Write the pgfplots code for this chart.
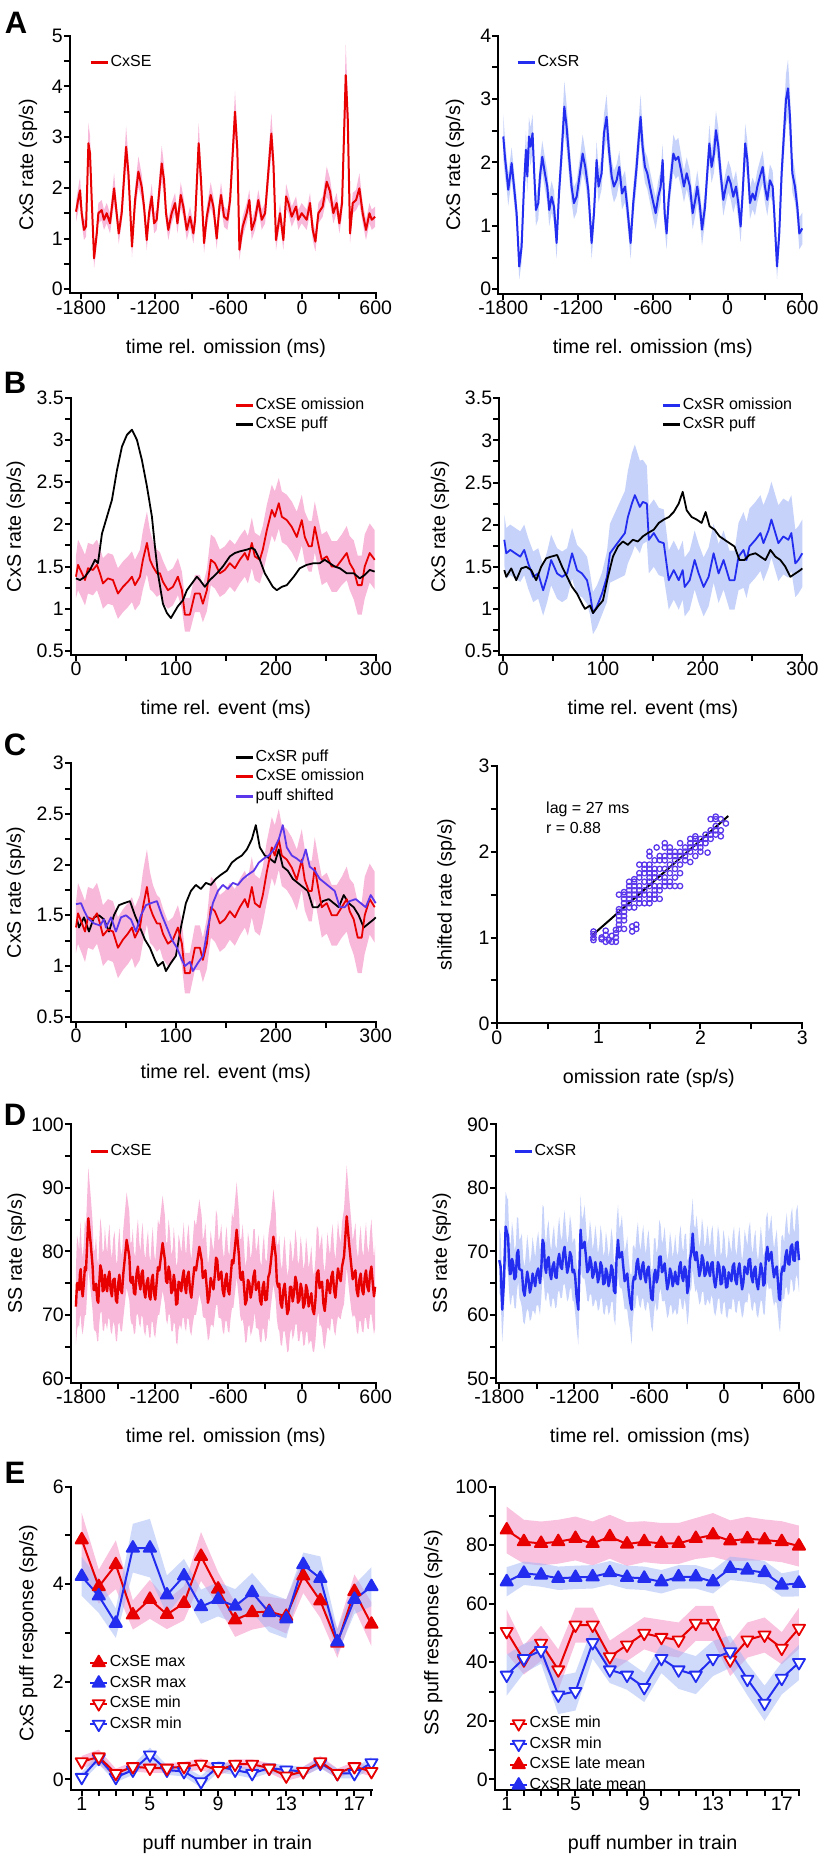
\documentclass[border=0pt]{standalone}
\usepackage{fontspec}
\setmainfont{Liberation Sans}
\usepackage{pgfplots}
\usepackage{pgfplotstable}
\pgfplotsset{compat=1.18}
\usepgfplotslibrary{fillbetween}
\definecolor{myred}{RGB}{232,0,0}
\definecolor{myblue}{RGB}{35,45,240}
\definecolor{bandpink}{RGB}{248,184,218}
\definecolor{bandblue}{RGB}{198,210,250}
\definecolor{ebandblue}{RGB}{160,182,245}
\definecolor{mypurple}{RGB}{90,55,235}

\pgfplotstableread{
t m e
-1841 1.53 0.2
-1814 1.89 0.25
-1808 1.95 0.25
-1795 1.5 0.2
-1776 1.17 0.2
-1759 1.24 0.2
-1740 2.88 0.4
-1727 2.68 0.35
-1713 1.76 0.25
-1694 0.61 0.2
-1672 1.1 0.2
-1659 1.5 0.2
-1632 1.56 0.2
-1613 1.37 0.2
-1591 1.5 0.2
-1564 1.3 0.2
-1531 1.99 0.3
-1510 1.5 0.2
-1493 1.1 0.2
-1469 1.5 0.2
-1433 2.81 0.4
-1414 2.29 0.3
-1401 1.63 0.2
-1385 0.84 0.2
-1360 1.76 0.25
-1333 2.32 0.3
-1306 2.02 0.25
-1287 1.63 0.2
-1265 0.97 0.2
-1246 1.5 0.2
-1224 1.83 0.25
-1205 1.3 0.2
-1184 1.37 0.2
-1143 2.48 0.35
-1124 2.15 0.3
-1108 1.5 0.2
-1089 1.17 0.2
-1062 1.5 0.2
-1034 1.7 0.2
-1015 1.3 0.2
-988 1.86 0.25
-967 1.63 0.2
-939 1.17 0.2
-912 1.43 0.2
-885 1.1 0.2
-871 1.37 0.2
-842 2.88 0.4
-823 2.15 0.3
-798 0.91 0.2
-776 1.43 0.2
-744 1.86 0.25
-722 1.63 0.2
-695 1.0 0.2
-673 1.63 0.2
-660 1.86 0.25
-635 1.43 0.2
-608 1.37 0.2
-586 1.76 0.25
-546 3.5 0.4
-527 2.75 0.35
-510 0.78 0.2
-483 1.24 0.2
-451 1.5 0.2
-429 1.76 0.2
-410 1.17 0.2
-383 1.37 0.2
-356 1.76 0.2
-328 1.37 0.2
-301 1.5 0.2
-250 3.07 0.4
-233 2.48 0.35
-212 0.97 0.2
-179 1.5 0.2
-152 0.97 0.2
-130 1.83 0.25
-111 1.7 0.2
-84 1.43 0.2
-49 1.63 0.2
-30 1.37 0.2
-3 1.5 0.2
38 1.37 0.2
65 1.7 0.2
87 1.17 0.2
109 0.94 0.2
133 1.5 0.2
168 1.63 0.2
201 2.12 0.3
228 1.93 0.25
255 1.5 0.2
282 1.7 0.2
304 1.3 0.2
326 1.7 0.25
356 4.22 0.6
372 3.4 0.45
391 1.1 0.2
413 1.7 0.2
440 1.76 0.2
467 1.99 0.3
494 1.5 0.2
521 1.17 0.2
549 1.5 0.2
568 1.37 0.2
595 1.43 0.2
}\tAL

\pgfplotstableread{
t m e
-1800 2.41 0.35
-1787 2.09 0.3
-1773 1.83 0.25
-1760 1.57 0.25
-1746 1.78 0.25
-1733 1.99 0.25
-1714 1.62 0.25
-1693 1.2 0.25
-1672 0.36 0.2
-1653 0.67 0.25
-1634 1.62 0.25
-1618 2.2 0.3
-1607 1.78 0.25
-1594 2.41 0.3
-1581 2.25 0.3
-1565 2.46 0.3
-1554 1.93 0.25
-1538 1.25 0.25
-1519 1.36 0.25
-1506 1.78 0.25
-1487 2.09 0.25
-1466 1.83 0.25
-1447 1.62 0.25
-1431 1.25 0.25
-1412 1.46 0.25
-1393 1.3 0.25
-1372 0.73 0.25
-1353 1.51 0.25
-1332 2.14 0.3
-1310 2.88 0.4
-1292 2.57 0.35
-1270 2.04 0.3
-1252 1.62 0.25
-1233 1.36 0.25
-1211 1.46 0.25
-1185 1.83 0.25
-1163 2.14 0.3
-1142 1.93 0.25
-1118 1.57 0.25
-1091 0.73 0.25
-1072 1.2 0.25
-1051 2.04 0.3
-1035 1.62 0.25
-1011 1.83 0.25
-992 2.46 0.3
-971 2.72 0.35
-952 2.2 0.3
-930 1.78 0.25
-912 1.62 0.25
-890 1.72 0.25
-869 1.93 0.25
-847 1.51 0.25
-823 1.62 0.25
-805 1.3 0.25
-778 0.73 0.25
-757 1.36 0.25
-730 1.93 0.3
-714 2.35 0.3
-698 2.72 0.35
-682 2.25 0.3
-663 1.93 0.25
-644 1.83 0.25
-623 1.62 0.25
-601 1.41 0.25
-577 1.2 0.25
-556 1.46 0.25
-537 1.62 0.25
-521 2.04 0.25
-505 1.2 0.25
-489 0.88 0.25
-473 1.41 0.25
-454 1.78 0.25
-435 2.14 0.3
-417 2.04 0.3
-395 2.09 0.3
-369 1.83 0.25
-350 1.62 0.25
-328 1.83 0.25
-302 1.62 0.25
-280 1.2 0.25
-259 1.41 0.25
-243 1.62 0.25
-221 1.3 0.25
-205 0.94 0.25
-181 1.3 0.25
-163 1.83 0.25
-146 2.3 0.3
-128 1.93 0.25
-109 2.14 0.3
-93 2.51 0.3
-74 2.25 0.3
-56 1.83 0.25
-34 1.41 0.25
-13 1.62 0.25
6 1.78 0.25
25 1.67 0.25
46 1.46 0.25
68 1.62 0.25
86 1.36 0.25
105 0.99 0.25
121 1.51 0.25
142 2.3 0.3
159 2.04 0.3
180 1.36 0.25
201 1.51 0.25
220 1.41 0.25
239 1.62 0.25
260 1.78 0.25
282 1.93 0.25
300 1.62 0.25
319 1.41 0.25
340 1.72 0.25
362 1.62 0.25
375 1.2 0.25
397 0.36 0.2
415 0.88 0.25
434 1.83 0.3
453 2.46 0.35
469 2.99 0.4
485 3.17 0.45
501 2.72 0.4
520 1.83 0.3
541 1.62 0.25
560 1.3 0.25
576 0.88 0.25
600 0.96 0.25
}\tAR

\pgfplotstableread{
t m e
0 1.38 0.25
2 1.52 0.3
6 1.42 0.3
9 1.34 0.3
12 1.48 0.3
17 1.46 0.3
21 1.52 0.3
24 1.42 0.3
27 1.3 0.3
32 1.36 0.3
37 1.34 0.3
42 1.18 0.3
47 1.26 0.3
52 1.32 0.3
56 1.38 0.3
59 1.28 0.3
64 1.38 0.32
67 1.58 0.35
71 1.78 0.37
74 1.58 0.35
77 1.5 0.3
81 1.42 0.28
84 1.42 0.25
87 1.32 0.25
92 1.22 0.22
97 1.26 0.22
102 1.38 0.22
106 1.22 0.22
109 0.93 0.2
114 0.93 0.2
119 1.18 0.22
124 1.18 0.22
127 1.06 0.22
131 1.22 0.25
135 1.58 0.3
139 1.54 0.3
144 1.42 0.28
149 1.46 0.28
154 1.54 0.28
159 1.48 0.28
164 1.58 0.28
169 1.66 0.28
172 1.58 0.28
176 1.78 0.3
179 1.62 0.28
184 1.58 0.28
187 1.7 0.28
191 1.93 0.3
196 2.17 0.3
199 2.09 0.3
203 2.25 0.3
206 2.09 0.3
211 2.05 0.3
216 1.97 0.3
221 1.85 0.3
226 2.05 0.3
229 1.85 0.3
233 1.74 0.3
236 1.74 0.3
239 1.97 0.3
243 1.74 0.3
246 1.58 0.3
251 1.62 0.3
256 1.5 0.3
261 1.5 0.3
266 1.58 0.3
271 1.66 0.32
274 1.54 0.32
278 1.46 0.35
282 1.28 0.35
286 1.28 0.35
289 1.5 0.38
294 1.66 0.35
299 1.58 0.35
}\tBLr

\pgfplotstableread{
t m
0 1.36
4 1.34
9 1.38
14 1.46
19 1.58
22 1.54
26 1.89
31 2.09
36 2.29
41 2.64
46 2.92
51 3.06
56 3.12
61 3.0
66 2.76
71 2.45
76 2.09
79 1.74
82 1.42
87 1.06
91 0.95
95 0.89
98 0.95
102 1.03
107 1.1
111 1.22
116 1.3
121 1.38
124 1.34
129 1.26
134 1.34
141 1.42
147 1.5
154 1.62
159 1.66
164 1.68
171 1.7
176 1.72
179 1.7
184 1.58
189 1.42
193 1.34
197 1.26
201 1.22
206 1.26
211 1.28
218 1.38
224 1.48
231 1.52
238 1.54
244 1.54
249 1.58
254 1.54
259 1.5
264 1.48
271 1.42
278 1.42
284 1.36
289 1.4
294 1.46
299 1.44
}\tBLk

\pgfplotstableread{
t m e
1 1.82 0.3
3 1.66 0.3
7 1.7 0.3
12 1.66 0.3
17 1.62 0.3
21 1.7 0.3
25 1.54 0.3
30 1.38 0.3
35 1.42 0.3
40 1.22 0.3
44 1.38 0.3
48 1.58 0.3
54 1.42 0.3
59 1.38 0.3
64 1.42 0.3
69 1.66 0.3
74 1.46 0.3
79 1.42 0.28
84 1.34 0.28
87 1.18 0.25
90 0.95 0.25
94 1.03 0.25
99 1.18 0.25
104 1.38 0.3
107 1.66 0.35
112 1.74 0.4
117 1.82 0.45
122 1.9 0.5
125 2.09 0.55
129 2.25 0.6
132 2.35 0.6
137 2.21 0.55
140 2.27 0.5
144 2.25 0.45
146 1.82 0.4
151 1.9 0.4
156 1.8 0.4
161 1.78 0.4
166 1.34 0.35
171 1.46 0.35
176 1.34 0.35
180 1.46 0.35
182 1.26 0.35
187 1.34 0.35
192 1.58 0.35
196 1.42 0.35
201 1.26 0.35
206 1.38 0.35
211 1.66 0.35
216 1.42 0.35
221 1.58 0.35
224 1.46 0.35
227 1.34 0.35
232 1.34 0.35
236 1.62 0.4
241 1.7 0.45
244 1.58 0.45
247 1.74 0.45
253 1.82 0.45
258 1.9 0.45
261 1.78 0.45
266 1.93 0.45
269 2.06 0.45
273 1.9 0.45
276 1.78 0.45
281 1.86 0.45
286 1.82 0.45
289 1.9 0.45
293 1.54 0.4
296 1.58 0.4
300 1.66 0.4
}\tBRb

\pgfplotstableread{
t m
1 1.46
3 1.38
8 1.48
13 1.34
18 1.48
23 1.5
28 1.46
33 1.34
38 1.5
43 1.6
48 1.62
54 1.64
59 1.5
64 1.38
69 1.26
74 1.18
79 1.06
82 1.0
87 1.04
90 0.95
95 1.03
100 1.1
105 1.38
110 1.62
115 1.74
120 1.8
125 1.76
130 1.82
135 1.8
140 1.86
145 1.9
151 1.94
156 2.02
161 2.06
166 2.09
171 2.15
176 2.25
180 2.39
184 2.17
189 2.09
194 2.06
199 2.02
203 2.15
207 1.98
212 1.94
217 1.86
222 1.82
227 1.78
232 1.74
237 1.58
242 1.58
247 1.64
253 1.66
258 1.62
263 1.58
268 1.7
273 1.62
278 1.58
283 1.5
288 1.38
293 1.42
298 1.46
300 1.48
}\tBRk

\pgfplotstableread{
t m
0 1.61
5 1.62
8 1.55
12 1.47
18 1.42
24 1.4
28 1.46
30 1.38
35 1.48
40 1.34
45 1.48
50 1.5
55 1.46
60 1.34
65 1.5
70 1.6
75 1.62
81 1.64
86 1.5
91 1.38
96 1.26
101 1.18
106 1.06
109 1.0
114 1.04
117 0.95
122 1.03
127 1.1
132 1.38
137 1.62
142 1.74
147 1.8
152 1.76
157 1.82
162 1.8
167 1.86
172 1.9
178 1.94
183 2.02
188 2.06
193 2.09
198 2.15
203 2.25
207 2.39
211 2.17
216 2.09
221 2.06
226 2.02
230 2.15
234 1.98
239 1.94
244 1.86
249 1.82
254 1.78
259 1.74
264 1.58
269 1.58
274 1.64
280 1.66
285 1.62
290 1.58
295 1.7
300 1.62
}\tCp

\pgfplotstableread{
t m e
-1841 71.3 6
-1832 75.0 7.5
-1822 75 6.5
-1815 73.9 6
-1808 76.5 6.5
-1802 77.2 7.5
-1795 74.4 6.5
-1786 72.9 6
-1776 75 6.5
-1768 77.5 7.5
-1759 77 7
-1740 85.2 8
-1721 81.3 7.5
-1705 77.6 7
-1696 73.9 6
-1686 73.9 6.5
-1677 74.9 7.5
-1667 72.3 6.5
-1659 71.9 6
-1651 75 6.5
-1642 77.8 7.5
-1632 77 6.5
-1623 73.7 6
-1613 73.9 6.5
-1605 76.3 7.5
-1596 75 6.5
-1587 73.7 6
-1577 76 6.5
-1568 76.8 7.5
-1558 73.9 6.5
-1548 72.9 6
-1537 75.5 6.5
-1526 75.7 7.5
-1515 72.3 6.5
-1506 71.9 6
-1496 75 6.5
-1487 76.3 7.5
-1477 73.9 6.5
-1466 73.4 6
-1455 76.5 7
-1428 81.8 7.5
-1406 79.2 7
-1397 75.3 6
-1387 75 6.5
-1378 76.0 7.5
-1368 73.4 6.5
-1358 73.2 6
-1347 76.5 6.5
-1336 77.6 7.5
-1325 75 6.5
-1316 74.0 6
-1306 76.5 6.5
-1297 77.0 7.5
-1287 73.9 6.5
-1276 72.7 6
-1265 75 6.5
-1254 75.8 7.5
-1243 72.9 6.5
-1234 72.4 6
-1224 75.5 6.5
-1215 76.3 7.5
-1205 73.4 6.5
-1195 72.4 6
-1184 75 6.5
-1173 77.5 7.5
-1162 77 7
-1135 81.3 7.5
-1116 78.6 7
-1107 75.3 6
-1097 75 6.5
-1086 77.6 7.5
-1075 76.5 6.5
-1064 73.4 6
-1053 73.9 6.5
-1044 76.3 7.5
-1034 75 6.5
-1025 71.6 6
-1015 71.8 6.5
-1005 75.2 7.5
-994 75 6.5
-983 73.7 6
-972 76 6.5
-963 77.0 7.5
-953 74.4 6.5
-944 73.4 6
-934 76 6.5
-923 76.8 7.5
-912 73.9 6.5
-901 72.7 6
-890 75 6.5
-877 77.5 7.5
-863 77 7
-836 80.7 7.5
-817 78.6 7
-808 75.8 6
-798 76 6.5
-787 77.0 7.5
-776 74.4 6.5
-766 71.9 6
-755 72.9 6.5
-744 75.8 7.5
-733 75 6.5
-721 74.0 6
-709 76.5 6.5
-700 79.0 7.5
-690 78.6 7
-679 75.5 6
-668 76 6.5
-657 76.8 7.5
-646 73.9 6.5
-635 72.9 6
-624 75.5 6.5
-614 76.5 7.5
-603 73.9 6.5
-592 73.2 6
-581 76 6.5
-570 78.6 7.5
-559 78.1 7
-532 83.4 7.5
-513 79.2 7
-504 75.9 6
-494 75.5 6.5
-483 76.8 7.5
-472 74.4 6.5
-462 71.6 6
-451 72.3 6.5
-440 75.5 7.5
-429 75 6.5
-418 72.7 6
-407 73.9 6.5
-396 76.0 7.5
-385 77 6.5
-375 73.9 6
-364 74.4 6.5
-353 75.2 7.5
-342 72.3 6.5
-331 71.6 6
-320 74.4 6.5
-310 75.2 7.5
-299 72.3 6.5
-287 72.4 6
-274 76 6.5
-265 76.5 7.5
-255 78.1 7
-233 82.3 7.5
-214 79.2 7
-205 75.3 6
-195 74.4 6.5
-185 74.9 7.5
-174 71.8 6.5
-163 71.1 6
-152 73.9 6.5
-141 74.9 7.5
-130 72.3 6.5
-120 70.1 6
-109 70.8 6.5
-98 74.4 7.5
-87 74.4 6.5
-76 72.1 6
-65 73.4 6.5
-54 76.0 7.5
-43 75 6.5
-33 71.9 6
-22 72.3 6.5
-11 74.9 7.5
0 73.9 6.5
11 71.1 6
22 71.8 6.5
33 74.7 7.5
43 73.9 6.5
54 71.3 6
65 72.3 6.5
76 73.4 7.5
87 70.8 6.5
98 70.1 6
109 72.3 6.5
121 76.5 7.5
133 77 6.5
143 74.2 6
152 75 6.5
163 75.2 7.5
174 71.8 6.5
185 70.6 6
196 72.9 6.5
207 75.5 7.5
217 74.4 6.5
228 73.4 6
239 76 6.5
250 76.8 7.5
261 73.9 6.5
272 72.7 6
282 75 6.5
293 77.3 7.5
304 76 6.5
315 75.3 6
326 77.6 7
342 79.2 7.5
364 85.5 8
383 81.3 7.5
402 77.6 7
413 75.6 6
424 76.5 6.5
435 77.0 7.5
445 73.9 6.5
456 72.9 6
467 75.5 6.5
478 76.5 7.5
489 73.9 6.5
500 73.2 6
511 76 6.5
521 77.0 7.5
532 74.4 6.5
543 73.7 6
554 76.5 6.5
565 77.6 7.5
576 75 6.5
586 72.9 6
595 74.4 6.5
}\tDL

\pgfplotstableread{
t m e
-1800 68.6 5
-1789 67.6 5
-1776 60.8 5
-1763 65 5
-1749 73.9 5.5
-1736 72.8 5.5
-1730 72.5 5.8
-1723 69.2 5
-1715 66.4 4.5
-1707 66.5 5
-1698 68.8 5.8
-1688 68.1 5
-1678 65.6 4.5
-1667 66 5
-1658 69.6 5.8
-1648 70.2 5
-1639 67.2 4.5
-1629 67.1 5
-1619 67.0 5.8
-1608 63.9 5
-1597 63.0 4.5
-1586 65 5
-1576 66.8 5.8
-1565 65.5 5
-1555 63.5 4.5
-1544 64.4 5
-1533 66.5 5.8
-1522 65.5 5
-1512 64.5 4.5
-1501 66.5 5
-1488 67.3 5.8
-1474 65 5
-1464 67.0 4.5
-1453 71.8 5.5
-1444 71.2 5.8
-1434 67.6 5
-1425 66.6 4.5
-1416 68.6 5
-1405 69.1 5.8
-1394 66.5 5
-1384 65.6 4.5
-1373 67.6 5
-1362 68.3 5.8
-1351 66 5
-1341 65.8 4.5
-1330 68.6 5
-1320 69.6 5.8
-1309 67.6 5
-1298 67.2 4.5
-1287 69.7 5
-1277 70.7 5.8
-1266 68.6 5
-1256 66.6 4.5
-1245 67.6 5
-1234 69.9 5.8
-1223 69.2 5
-1213 66.7 4.5
-1202 67.1 5
-1192 66.0 5.8
-1181 62.9 5
-1167 60.8 5.5
-1149 73.4 5.5
-1138 70.5 4.5
-1127 70.7 5
-1117 71.5 5.8
-1106 69.2 5
-1095 66.7 4.5
-1084 67.1 5
-1074 69.1 5.8
-1063 68.1 5
-1053 65.8 4.5
-1042 66.5 5
-1031 68.3 5.8
-1020 67.1 5
-1010 65.1 4.5
-999 66 5
-989 68.3 5.8
-978 67.6 5
-967 64.8 4.5
-956 65 5
-946 67.3 5.8
-935 66.5 5
-925 64.5 4.5
-914 65.5 5
-903 67.8 5.8
-892 67.1 5
-882 63.8 4.5
-871 63.4 5
-860 69.1 5.8
-849 71.8 5.5
-838 69.0 4.5
-828 69.2 5
-818 69.9 5.8
-807 67.6 5
-796 65.3 4.5
-785 66 5
-775 66.5 5.8
-764 63.9 5
-752 62.0 4.5
-740 60.8 5.5
-731 64.9 5.8
-721 66 5
-711 65.6 4.5
-700 68.1 5
-690 68.8 5.8
-679 66.5 5
-668 65.6 4.5
-657 67.6 5
-647 68.3 5.8
-636 66 5
-626 65.1 4.5
-615 67.1 5
-604 67.6 5.8
-593 65 5
-583 62.6 4.5
-572 62.3 5
-561 66.2 5.8
-550 67.1 5
-540 65.1 4.5
-529 66 5
-519 69.1 5.8
-508 69.2 5
-497 66.7 4.5
-486 67.1 5
-476 68.1 5.8
-465 66 5
-455 64.0 4.5
-444 65 5
-433 67.3 5.8
-422 66.5 5
-412 64.5 4.5
-401 65.5 5
-391 66.8 5.8
-380 65 5
-369 64.8 4.5
-358 67.6 5
-348 68.3 5.8
-337 66 5
-327 65.3 4.5
-316 67.6 5
-305 67.0 5.8
-294 63.4 5
-284 64.5 4.5
-273 68.6 5
-262 70.0 5.8
-251 72.8 5.5
-241 69.7 4.5
-230 68.6 5
-220 69.9 5.8
-209 68.1 5
-198 66.1 4.5
-187 67.1 5
-177 69.4 5.8
-166 68.6 5
-156 66.1 4.5
-145 66.5 5
-134 68.3 5.8
-123 67.1 5
-113 66.1 4.5
-102 68.1 5
-92 68.3 5.8
-81 65.5 5
-70 64.3 4.5
-59 66 5
-49 68.3 5.8
-38 67.6 5
-27 64.8 4.5
-16 65 5
-6 67.6 5.8
5 67.1 5
16 64.3 4.5
26 64.4 5
37 66.7 5.8
48 66 5
59 65.3 4.5
69 67.6 5
80 68.1 5.8
90 65.5 5
101 64.8 4.5
112 67.1 5
123 68.1 5.8
133 66 5
144 64.0 4.5
154 65 5
165 67.6 5.8
176 67.1 5
187 66.4 4.5
197 68.6 5
208 68.8 5.8
219 66 5
230 65.1 4.5
240 67.1 5
251 67.6 5.8
261 65 5
272 64.0 4.5
283 66 5
294 68.1 5.8
304 67.1 5
315 64.6 4.5
325 65 5
336 69.4 5.8
347 70.7 5.5
358 68.5 4.5
368 69.2 5
379 69.9 5.8
389 67.6 5
400 65.9 4.5
411 67.1 5
422 67.6 5.8
432 65 5
440 62.6 4.5
448 62.3 5
459 66.5 5.8
470 67.6 5
481 66.9 4.5
491 69.2 5
502 70.2 5.8
512 68.1 5
523 67.9 4.5
534 70.7 5
545 71.1 5.8
555 68.6 5
566 68.5 4.5
576 71.3 5
588 71.5 5.8
600 68.6 5
}\tDR

\pgfplotstableread{
n m e
1 4.91 0.55
2 3.95 0.35
3 4.4 0.5
4 3.37 0.3
5 3.69 0.4
6 3.38 0.3
7 3.61 0.35
8 4.57 0.5
9 3.9 0.35
10 3.27 0.35
11 3.42 0.35
12 3.44 0.3
13 3.34 0.35
14 4.17 0.35
15 3.66 0.35
16 2.79 0.3
17 3.85 0.35
18 3.18 0.45
}\tEa
\pgfplotstableread{
n m e
1 4.16 0.4
2 3.76 0.35
3 3.2 0.3
4 4.74 0.5
5 4.74 0.6
6 3.78 0.4
7 4.17 0.35
8 3.54 0.35
9 3.69 0.35
10 3.55 0.35
11 3.83 0.4
12 3.42 0.4
13 3.29 0.4
14 4.4 0.25
15 4.12 0.45
16 2.82 0.25
17 3.69 0.3
18 3.95 0.4
}\tEb
\pgfplotstableread{
n m e
1 0.36 0.12
2 0.46 0.15
3 0.12 0.1
4 0.26 0.1
5 0.23 0.1
6 0.23 0.1
7 0.26 0.1
8 0.31 0.12
9 0.18 0.1
10 0.31 0.1
11 0.31 0.1
12 0.23 0.1
13 0.07 0.1
14 0.16 0.1
15 0.36 0.12
16 0.12 0.1
17 0.26 0.1
18 0.16 0.1
}\tEc
\pgfplotstableread{
n m e
1 0.04 0.1
2 0.43 0.12
3 0.04 0.1
4 0.19 0.1
5 0.5 0.15
6 0.19 0.1
7 0.16 0.1
8 -0.05 0.12
9 0.26 0.12
10 0.19 0.1
11 0.12 0.1
12 0.23 0.1
13 0.19 0.1
14 0.16 0.1
15 0.33 0.1
16 0.12 0.1
17 0.12 0.1
18 0.34 0.12
}\tEd

\pgfplotstableread{
n m e
1 50.5 7.5
2 40.8 5
3 46.5 6
4 37.4 7
5 52.7 6
6 52.7 6
7 41.9 5.5
8 45.9 5.5
9 49.9 5.5
10 48.5 6
11 47.6 6
12 53.3 6
13 53.3 6
14 40.8 5.5
15 47.6 6
16 49.3 6
17 44.8 5.5
18 51.6 7
}\tFa
\pgfplotstableread{
n m e
1 35.6 7
2 41.3 5
3 44 4.5
4 28.8 6.5
5 30 6.5
6 46.7 5.5
7 37.4 4.5
8 35.6 5
9 31.4 5
10 41.3 5
11 37.4 6.5
12 35.6 6.5
13 41.3 6
14 43.6 5.5
15 34.2 5.5
16 26 6
17 34.5 5.5
18 39.9 6
}\tFb
\pgfplotstableread{
n m e
1 85.2 8
2 81.2 7.5
3 80.6 7.5
4 81.2 7.5
5 82.3 7.5
6 80.6 7.5
7 82.9 7.5
8 80.4 7.5
9 81.2 7
10 80.6 7
11 80.6 7
12 82.3 7
13 83.5 7.5
14 81.5 7
15 82.2 7.5
16 81.8 7
17 81.2 7
18 79.7 7
}\tFc
\pgfplotstableread{
n m e
1 67.5 5
2 70.4 4
3 69.8 4
4 68.7 4
5 69 4
6 69.2 4
7 70.6 4
8 69 4
9 68.7 4
10 67.5 4
11 69.2 4
12 69.2 4
13 67.5 4
14 72.1 4
15 71.5 4
16 70.6 4
17 66.4 4
18 67 4.5
}\tFd

\newcommand{\band}[3]{%
 \addplot[draw=none, name path=#3u, forget plot] table[x index=0, y expr=\thisrowno{1}+\thisrowno{2}] {#1};
 \addplot[draw=none, name path=#3l, forget plot] table[x index=0, y expr=\thisrowno{1}-\thisrowno{2}] {#1};
 \addplot[#2, draw=none, forget plot] fill between[of=#3u and #3l];
}

\pgfplotsset{
  base/.style={
    scale only axis,
    axis x line=bottom, axis y line=left,
    axis line style={-, line width=2pt, black, line cap=rect},
    tick align=outside,
    major tick length=6pt, minor tick length=6pt,
    major tick style={line width=2pt, black},
    minor tick style={line width=2pt, black},
    xticklabel style={font=\fontsize{19.5}{22}\selectfont, inner sep=1pt},
    yticklabel style={font=\fontsize{19.5}{22}\selectfont, inner sep=1pt},
    label style={font=\fontsize{19.7}{22}\selectfont},
    xlabel style={anchor=center}, ylabel style={anchor=center},
    legend style={draw=none, fill=none, inner sep=0pt, anchor=north west,
      font=\fontsize{16}{18}\selectfont,
      nodes={inner sep=1.5pt, text height=11.5pt, text depth=3.5pt}, row sep=1.5pt},
    legend cell align=left,
    legend image code/.code={\draw[mark repeat=2,mark phase=2,#1] plot coordinates {(0pt,0pt) (8.5pt,0pt) (17pt,0pt)};},
    anchor=south west,
    clip=false,
    every axis plot/.append style={line join=round},
  },
  upm/.style={mark=triangle*, mark size=7pt, mark options={solid, fill=#1, draw=#1}},
  dnm/.style={mark=triangle*, mark size=7pt, mark options={solid, rotate=180, fill=white, draw=#1, line width=1.8pt}},
}

\begin{document}
\begin{tikzpicture}[x=1pt,y=1pt]
\path (0pt,0pt) rectangle (819pt,1857pt);
\node[font=\bfseries\fontsize{31}{33}\selectfont] at (16pt,1834pt) {A};
\node[font=\bfseries\fontsize{31}{33}\selectfont] at (15pt,1474pt) {B};
\node[font=\bfseries\fontsize{31}{33}\selectfont] at (15pt,1112pt) {C};
\node[font=\bfseries\fontsize{31}{33}\selectfont] at (15pt,742pt) {D};
\node[font=\bfseries\fontsize{31}{33}\selectfont] at (15pt,384pt) {E};

% ---------- A left
\begin{axis}[base, at={(70pt,1563.7pt)}, width=305.7pt, height=257.6pt,
  xmin=-1890, xmax=600, ymin=-0.079, ymax=5,
  xtick={-1800,-1200,-600,0,600}, xticklabels={-1800,-1200,-600,0,600}, minor x tick num=1,
  ytick={0,1,2,3,4,5}, yticklabels={0,1,2,3,4,5}, minor y tick num=1,
  xlabel={time rel. omission (ms)}, ylabel={CxS rate (sp/s)},
  xlabel style={at={(axis description cs:0.51,-0.214)}},
  ylabel style={at={(axis description cs:-0.137,0.5)}},
  legend style={at={(0.062,0.932)}}]
\addlegendimage{myred, line width=3pt}\addlegendentry{CxSE}
\band{\tAL}{fill=bandpink}{al}
\addplot[myred, line width=2pt, forget plot] table[x index=0, y index=1] {\tAL};
\end{axis}

% ---------- A right
\begin{axis}[base, at={(498.3pt,1563pt)}, width=304pt, height=258.3pt,
  xmin=-1840, xmax=600, ymin=-0.074, ymax=4,
  xtick={-1800,-1200,-600,0,600}, xticklabels={-1800,-1200,-600,0,600}, minor x tick num=1,
  ytick={0,1,2,3,4}, yticklabels={0,1,2,3,4}, minor y tick num=1,
  xlabel={time rel. omission (ms)}, ylabel={CxS rate (sp/s)},
  xlabel style={at={(axis description cs:0.508,-0.209)}},
  ylabel style={at={(axis description cs:-0.142,0.5)}},
  legend style={at={(0.058,0.932)}}]
\addlegendimage{myblue, line width=3pt}\addlegendentry{CxSR}
\band{\tAR}{fill=bandblue}{ar}
\addplot[myblue, line width=2pt, forget plot] table[x index=0, y index=1] {\tAR};
\end{axis}

% ---------- B left
\begin{axis}[base, at={(71pt,1202pt)}, width=304.7pt, height=257.3pt,
  xmin=-5, xmax=300, ymin=0.4526, ymax=3.5,
  xtick={0,100,200,300}, xticklabels={0,100,200,300}, minor x tick num=1,
  ytick={0.5,1,1.5,2,2.5,3,3.5}, yticklabels={0.5,1,1.5,2,2.5,3,3.5}, minor y tick num=1,
  xlabel={time rel. event (ms)}, ylabel={CxS rate (sp/s)},
  xlabel style={at={(axis description cs:0.508,-0.211)}},
  ylabel style={at={(axis description cs:-0.181,0.5)}},
  legend style={at={(0.535,1.006)}}]
\addlegendimage{myred, line width=3pt}\addlegendentry{CxSE omission}
\addlegendimage{black, line width=3pt}\addlegendentry{CxSE puff}
\band{\tBLr}{fill=bandpink}{bl}
\addplot[myred, line width=1.8pt, forget plot] table[x index=0, y index=1] {\tBLr};
\addplot[black, line width=1.8pt, forget plot] table[x index=0, y index=1] {\tBLk};
\end{axis}

% ---------- B right
\begin{axis}[base, at={(499.3pt,1202pt)}, width=303pt, height=256.7pt,
  xmin=-4, xmax=300, ymin=0.4525, ymax=3.5,
  xtick={0,100,200,300}, xticklabels={0,100,200,300}, minor x tick num=1,
  ytick={0.5,1,1.5,2,2.5,3,3.5}, yticklabels={0.5,1,1.5,2,2.5,3,3.5}, minor y tick num=1,
  xlabel={time rel. event (ms)}, ylabel={CxS rate (sp/s)},
  xlabel style={at={(axis description cs:0.507,-0.212)}},
  ylabel style={at={(axis description cs:-0.196,0.5)}},
  legend style={at={(0.534,1.008)}}]
\addlegendimage{myblue, line width=3pt}\addlegendentry{CxSR omission}
\addlegendimage{black, line width=3pt}\addlegendentry{CxSR puff}
\band{\tBRb}{fill=bandblue}{br}
\addplot[myblue, line width=1.8pt, forget plot] table[x index=0, y index=1] {\tBRb};
\addplot[black, line width=1.8pt, forget plot] table[x index=0, y index=1] {\tBRk};
\end{axis}

% ---------- C left
\begin{axis}[base, at={(71pt,835.3pt)}, width=304.7pt, height=258.4pt,
  xmin=-5, xmax=300, ymin=0.4507, ymax=3,
  xtick={0,100,200,300}, xticklabels={0,100,200,300}, minor x tick num=1,
  ytick={0.5,1,1.5,2,2.5,3}, yticklabels={0.5,1,1.5,2,2.5,3}, minor y tick num=1,
  xlabel={time rel. event (ms)}, ylabel={CxS rate (sp/s)},
  xlabel style={at={(axis description cs:0.508,-0.2)}},
  ylabel style={at={(axis description cs:-0.181,0.5)}},
  legend style={at={(0.535,1.058)}}]
\addlegendimage{black, line width=3pt}\addlegendentry{CxSR puff}
\addlegendimage{myred, line width=3pt}\addlegendentry{CxSE omission}
\addlegendimage{mypurple, line width=3pt}\addlegendentry{puff shifted}
\band{\tBLr}{fill=bandpink}{cl}
\addplot[black, line width=1.8pt, forget plot] table[x index=0, y index=1] {\tBRk};
\addplot[myred, line width=1.8pt, forget plot] table[x index=0, y index=1] {\tBLr};
\addplot[mypurple, line width=1.8pt, forget plot] table[x index=0, y index=1] {\tCp};
\end{axis}

% ---------- C right
\begin{axis}[base, at={(496.7pt,833.7pt)}, width=305.6pt, height=257.3pt,
  xmin=0, xmax=3, ymin=0, ymax=3,
  xtick={0,1,2,3}, xticklabels={0,1,2,3}, minor x tick num=1,
  ytick={0,1,2,3}, yticklabels={0,1,2,3}, minor y tick num=1,
  xlabel={omission rate (sp/s)}, ylabel={shifted rate (sp/s)},
  xlabel style={at={(axis description cs:0.498,-0.213)}},
  ylabel style={at={(axis description cs:-0.164,0.5)}}]
\addplot[only marks, mark=o, mark size=2.7pt, mypurple, mark options={line width=1.3pt}, forget plot] coordinates {
(0.95,0.97)(0.95,1.0)(0.95,1.04)(0.95,1.07)(1.03,0.98)(1.03,1.0)(1.07,0.95)(1.07,1.03)(1.07,1.08)(1.1,0.97)(1.13,0.95)(1.13,1.02)(1.17,0.95)(1.17,1.0)(1.17,1.05)(1.17,1.09)
(1.2,1.1)(1.2,1.15)(1.2,1.2)(1.2,1.25)(1.2,1.3)(1.2,1.33)(1.2,1.5)
(1.25,1.1)(1.25,1.2)(1.25,1.25)(1.25,1.3)(1.25,1.35)(1.25,1.4)(1.25,1.45)(1.25,1.5)(1.25,1.53)
(1.33,1.07)(1.33,1.13)(1.37,1.1)(1.37,1.15)
(1.3,1.35)(1.3,1.4)(1.3,1.45)(1.3,1.5)(1.3,1.55)(1.3,1.6)(1.3,1.65)
(1.35,1.35)(1.35,1.45)(1.35,1.5)(1.35,1.55)(1.35,1.6)(1.35,1.65)(1.35,1.68)
(1.4,1.4)(1.4,1.45)(1.4,1.5)(1.4,1.55)(1.4,1.6)(1.4,1.7)(1.4,1.75)(1.4,1.85)
(1.45,1.4)(1.45,1.5)(1.45,1.55)(1.45,1.65)(1.45,1.75)(1.45,1.8)(1.45,1.85)
(1.5,1.4)(1.5,1.45)(1.5,1.5)(1.5,1.6)(1.5,1.65)(1.5,1.7)(1.5,1.75)(1.5,1.8)(1.5,1.85)(1.5,1.95)(1.5,2.0)
(1.55,1.45)(1.55,1.5)(1.55,1.55)(1.55,1.6)(1.55,1.7)(1.55,1.75)(1.55,1.8)(1.55,1.9)(1.57,2.05)
(1.6,1.45)(1.6,1.55)(1.6,1.6)(1.6,1.7)(1.6,1.8)(1.6,1.9)(1.6,1.95)
(1.65,1.6)(1.65,1.65)(1.65,1.7)(1.65,1.8)(1.65,1.9)(1.65,1.95)(1.65,2.05)(1.65,2.1)
(1.7,1.6)(1.7,1.65)(1.7,1.75)(1.7,1.85)(1.7,1.95)(1.7,2.0)(1.7,2.05)
(1.75,1.6)(1.75,1.7)(1.75,1.8)(1.75,1.9)(1.75,1.95)(1.75,2.0)
(1.8,1.6)(1.8,1.75)(1.8,1.85)(1.8,1.95)(1.8,2.0)(1.8,2.1)
(1.85,1.9)(1.85,1.95)(1.85,2.0)(1.85,2.05)
(1.9,1.88)(1.9,2.0)(1.9,2.05)(1.9,2.1)(1.9,2.15)
(1.95,1.95)(1.95,2.05)(1.95,2.1)(1.95,2.15)(1.95,2.18)
(2.0,2.0)(2.0,2.05)(2.0,2.1)(2.0,2.15)
(2.05,2.1)(2.05,2.15)(2.05,2.2)
(2.07,1.99)(2.1,2.15)(2.1,2.2)(2.1,2.25)(2.1,2.38)
(2.15,2.2)(2.15,2.25)(2.15,2.3)(2.15,2.38)(2.15,2.41)
(2.2,2.18)(2.2,2.25)(2.2,2.38)
(2.25,2.33)};
\addplot[black, line width=2pt, forget plot] coordinates {(0.942,1.03) (2.273,2.417)};
\node[anchor=west, font=\fontsize{16}{18}\selectfont, inner sep=0pt] at (axis cs:0.484,2.5) {lag = 27 ms};
\node[anchor=west, font=\fontsize{16}{18}\selectfont, inner sep=0pt] at (axis cs:0.484,2.277) {r = 0.88};
\end{axis}

% ---------- D left
\begin{axis}[base, at={(71pt,474.3pt)}, width=304.7pt, height=258.4pt,
  xmin=-1881, xmax=600, ymin=59.31, ymax=100,
  xtick={-1800,-1200,-600,0,600}, xticklabels={-1800,-1200,-600,0,600}, minor x tick num=1,
  ytick={60,70,80,90,100}, yticklabels={60,70,80,90,100}, minor y tick num=1,
  xlabel={time rel. omission (ms)}, ylabel={SS rate (sp/s)},
  xlabel style={at={(axis description cs:0.508,-0.21)}},
  ylabel style={at={(axis description cs:-0.178,0.5)}},
  legend style={at={(0.059,0.9305)}}]
\addlegendimage{myred, line width=3pt}\addlegendentry{CxSE}
\band{\tDL}{fill=bandpink}{dl}
\addplot[myred, line width=2.4pt, forget plot] table[x index=0, y index=1] {\tDL};
\end{axis}

% ---------- D right
\begin{axis}[base, at={(496pt,474.3pt)}, width=303pt, height=258.4pt,
  xmin=-1826, xmax=600, ymin=49.31, ymax=90,
  xtick={-1800,-1200,-600,0,600}, xticklabels={-1800,-1200,-600,0,600}, minor x tick num=1,
  ytick={50,60,70,80,90}, yticklabels={50,60,70,80,90}, minor y tick num=1,
  xlabel={time rel. omission (ms)}, ylabel={SS rate (sp/s)},
  xlabel style={at={(axis description cs:0.508,-0.21)}},
  ylabel style={at={(axis description cs:-0.179,0.5)}},
  legend style={at={(0.056,0.9305)}}]
\addlegendimage{myblue, line width=3pt}\addlegendentry{CxSR}
\band{\tDR}{fill=bandblue}{dr}
\addplot[myblue, line width=2.4pt, forget plot] table[x index=0, y index=1] {\tDR};
\end{axis}

% ---------- E left
\begin{axis}[base, at={(71pt,67pt)}, width=301.3pt, height=303.3pt,
  xmin=0.37, xmax=18.05, ymin=-0.219, ymax=6,
  xtick={1,5,9,13,17}, xticklabels={1,5,9,13,17}, minor xtick={2,3,4,6,7,8,10,11,12,14,15,16,18},
  ytick={0,2,4,6}, yticklabels={0,2,4,6}, minor y tick num=1,
  xlabel={puff number in train}, ylabel={CxS puff response (sp/s)},
  xlabel style={at={(axis description cs:0.519,-0.179)}},
  ylabel style={at={(axis description cs:-0.142,0.518)}},
  legend style={at={(0.06,0.45)}, row sep=2.5pt}]
\addlegendimage{myred, line width=2pt, upm=myred}\addlegendentry{CxSE max}
\addlegendimage{myblue, line width=2pt, upm=myblue}\addlegendentry{CxSR max}
\addlegendimage{myred, line width=2pt, dnm=myred}\addlegendentry{CxSE min}
\addlegendimage{myblue, line width=2pt, dnm=myblue}\addlegendentry{CxSR min}
\band{\tEa}{fill=bandpink, fill opacity=0.85}{ea}
\addplot[myred, line width=2pt, upm=myred, forget plot] table[x index=0, y index=1] {\tEa};
\band{\tEb}{fill=ebandblue, fill opacity=0.5}{eb}
\addplot[myblue, line width=2pt, upm=myblue, forget plot] table[x index=0, y index=1] {\tEb};
\band{\tEc}{fill=bandpink, fill opacity=0.85}{ec}
\band{\tEd}{fill=ebandblue, fill opacity=0.5}{ed}
\addplot[myblue, line width=2pt, dnm=myblue, forget plot] table[x index=0, y index=1] {\tEd};
\addplot[myred, line width=2pt, dnm=myred, forget plot] table[x index=0, y index=1] {\tEc};
\end{axis}

% ---------- E right
\begin{axis}[base, at={(495pt,67pt)}, width=304.3pt, height=303.3pt,
  xmin=0.32, xmax=18.02, ymin=-3.66, ymax=100,
  xtick={1,5,9,13,17}, xticklabels={1,5,9,13,17}, minor xtick={2,3,4,6,7,8,10,11,12,14,15,16,18},
  ytick={0,20,40,60,80,100}, yticklabels={0,20,40,60,80,100}, minor y tick num=1,
  xlabel={puff number in train}, ylabel={SS puff response (sp/s)},
  xlabel style={at={(axis description cs:0.518,-0.179)}},
  ylabel style={at={(axis description cs:-0.203,0.518)}},
  legend style={at={(0.046,0.249)}, row sep=2.5pt}]
\addlegendimage{myred, line width=2pt, dnm=myred}\addlegendentry{CxSE min}
\addlegendimage{myblue, line width=2pt, dnm=myblue}\addlegendentry{CxSR min}
\addlegendimage{myred, line width=2pt, upm=myred}\addlegendentry{CxSE late mean}
\addlegendimage{myblue, line width=2pt, upm=myblue}\addlegendentry{CxSR late mean}
\band{\tFc}{fill=bandpink, fill opacity=0.85}{fc}
\addplot[myred, line width=2pt, upm=myred, forget plot] table[x index=0, y index=1] {\tFc};
\band{\tFd}{fill=ebandblue, fill opacity=0.5}{fd}
\addplot[myblue, line width=2pt, upm=myblue, forget plot] table[x index=0, y index=1] {\tFd};
\band{\tFa}{fill=bandpink, fill opacity=0.85}{fa}
\addplot[myred, line width=2pt, dnm=myred, forget plot] table[x index=0, y index=1] {\tFa};
\band{\tFb}{fill=ebandblue, fill opacity=0.5}{fb}
\addplot[myblue, line width=2pt, dnm=myblue, forget plot] table[x index=0, y index=1] {\tFb};
\end{axis}
\end{tikzpicture}
\end{document}
